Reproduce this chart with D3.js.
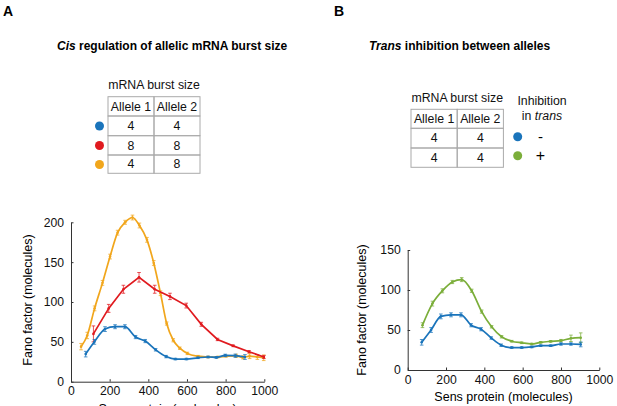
<!DOCTYPE html>
<html>
<head>
<meta charset="utf-8">
<script src="https://cdn.jsdelivr.net/npm/d3@7"></script>
<style>
  body { margin: 0; background: #fff; }
  svg { font-family: "Liberation Sans", Arial, sans-serif; }
  .axis path, .axis line { stroke: #333; }
  .axis text { font-size: 12.2px; fill: #111; font-family: "Liberation Sans", Arial, sans-serif; }
  .cell { fill: none; stroke: #aaa; stroke-width: 1; }
  .ttext { font-size: 12.3px; fill: #111; text-anchor: middle; }
</style>
</head>
<body>
<div id="plot"></div>
<script>
const w = 617, h = 406

// series: [Sens protein, Fano factor, error]
const blueA = [[76,34.6,3.5],[121,50,3],[176,66,3],[228,69,2.5],[279,69,2.5],[334,56,2],[384,51,2],
  [438,40,1.5],[492,31.5,1.5],[540,28.4,1],[597,28.4,1],[657,30,1],[709,31,1],[752,30.5,1],
  [798,33,1.5],[850,32.6,2],[900,31,3]]
const redA = [[116,60,10],[195,92,5],[271,116,5],[352,131,6],[433,116,5],[512,107,4],[596,95.5,3],
  [674,72,2.5],[758,53,1.5],[839,45,1],[921,37.6,1.5],[998,31,2]]
const orangeA = [[52,44,4],[84,58,4],[122,92,3],[163,124,3],[202,157,3],[241,187,3],[280,200,2.5],
  [318,206,3],[354,196,3],[393,178,3],[428,149,3],[463,111,3],[495,73,2],[529,52,2],[563,42,1.5],
  [602,35.5,1.5],[657,32,1],[709,31,1],[760,31,1],[803,32,1],[855,32.5,2],[890,30.5,2],[924,32,3],
  [964,31,3],[997,30,3.5]]
const blueB = [[73,34.6,3.5],[122,50,3],[173,67,3],[226,69,2.5],[278,69,2.5],[331,56,2],[383,51,2],
  [436,40,1.5],[488,31,1.5],[543,28,1],[595,28,1],[647,28.8,1],[694,30.4,1],[746,30.4,1],
  [800,32.5,1.5],[852,32.5,1.5],[903,32,3]]
const greenB = [[77,56,3],[129,83,3],[181,99,2.5],[233,110,2],[282,113,2.5],[334,99,2],[386,73,2],
  [438,54,1.5],[490,41.5,1.5],[543,36,1],[595,34,1],[647,32.5,1],[694,34.6,1],[746,35.8,1],
  [800,36.7,1.5],[852,39.6,4],[903,40.4,6]]

const xTicks = [0, 200, 400, 600, 800, 1000]
const yTicksA = [0, 50, 100, 150, 200]
const yTicksB = [0, 50, 100, 150]

const tableHeadA = ["Allele 1", "Allele 2"]
const tableRowsA = [[4, 4], [8, 8], [4, 8]]
const tableHeadB = ["Allele 1", "Allele 2"]
const tableRowsB = [[4, 4], [4, 4]]
const inhibition = ["-", "+"]

const blue = "#1a74bb", red = "#e01a1f", orange = "#f1a61c", green = "#7bae3a"

const svg = d3.select("#plot").append("svg")
  .attr("width", w)
  .attr("height", h)

// panel letters + titles
svg.append("text").attr("x", 3).attr("y", 16).attr("font-weight", "bold")
  .attr("font-size", 14).text("A")
svg.append("text").attr("x", 334).attr("y", 16).attr("font-weight", "bold")
  .attr("font-size", 14).text("B")

const tA = svg.append("text").attr("x", 57).attr("y", 50)
  .attr("font-weight", "bold").attr("font-size", 12)
tA.append("tspan").attr("font-style", "italic").text("Cis")
tA.append("tspan").text(" regulation of allelic mRNA burst size")

const tB = svg.append("text").attr("x", 369).attr("y", 50)
  .attr("font-weight", "bold").attr("font-size", 12)
tB.append("tspan").attr("font-style", "italic").text("Trans")
tB.append("tspan").text(" inhibition between alleles")

// tables
const drawTable = (x0, colW, rowYs, head, rows, caption, capY) => {
  const g = svg.append("g")
  g.append("text").attr("class", "ttext").attr("x", x0 + colW).attr("y", capY).text(caption)
  const all = [head].concat(rows)
  all.forEach((r, i) => {
    r.forEach((v, j) => {
      g.append("rect").attr("class", "cell")
        .attr("x", x0 + j * colW).attr("y", rowYs[i])
        .attr("width", colW).attr("height", rowYs[i + 1] - rowYs[i])
      g.append("text").attr("class", "ttext")
        .attr("x", x0 + j * colW + colW / 2)
        .attr("y", (rowYs[i] + rowYs[i + 1]) / 2 + 4.3)
        .text(v)
    })
  })
}

drawTable(108, 46, [96.7, 116, 135.7, 155, 173.3], tableHeadA, tableRowsA, "mRNA burst size", 88.5)
;[blue, red, orange].forEach((c, i) => {
  svg.append("circle").attr("cx", 99.5).attr("cy", [126, 145.5, 164.5][i]).attr("r", 4.5).attr("fill", c)
})

drawTable(411, 46.2, [109.3, 128.3, 148, 167.3], tableHeadB, tableRowsB, "mRNA burst size", 102)
svg.append("text").attr("class", "ttext").attr("x", 542).attr("y", 104.5).text("Inhibition")
const it = svg.append("text").attr("class", "ttext").attr("x", 542).attr("y", 120)
it.append("tspan").text("in ")
it.append("tspan").attr("font-style", "italic").text("trans")
;[blue, green].forEach((c, i) => {
  svg.append("circle").attr("cx", 517.7).attr("cy", [136.7, 155.7][i]).attr("r", 4.5).attr("fill", c)
  svg.append("text").attr("x", 540.5).attr("y", [136.7, 155.7][i] + 5)
    .attr("text-anchor", "middle").attr("font-size", i ? 16 : 15).text(inhibition[i])
})

// plots
const drawPlot = (xr, yr, yMax, yTicks, series, labX, labY) => {
  const x = d3.scaleLinear().domain([0, 1000]).range(xr)
  const y = d3.scaleLinear().domain([0, yMax]).range(yr)

  svg.append("g").attr("class", "axis")
    .attr("transform", `translate(0, ${yr[0]})`)
    .call(d3.axisBottom(x).tickValues(xTicks).tickFormat(d3.format("d"))
      .tickSizeInner(-2.5).tickSizeOuter(0).tickPadding(5))

  svg.append("g").attr("class", "axis")
    .attr("transform", `translate(${xr[0]}, 0)`)
    .call(d3.axisLeft(y).tickValues(yTicks).tickFormat(d3.format("d"))
      .tickSizeInner(-2.5).tickSizeOuter(0).tickPadding(7))

  svg.append("text")
    .attr("transform", `translate(${labX}, ${labY}) rotate(-90)`)
    .attr("text-anchor", "middle").attr("font-size", 12.5).attr("dy", "0.35em")
    .text("Fano factor (molecules)")
  svg.append("text")
    .attr("x", (xr[0] + xr[1]) / 2).attr("y", yr[0] + 31)
    .attr("text-anchor", "middle").attr("font-size", 12.5)
    .text("Sens protein (molecules)")

  series.forEach(s => {
    const g = svg.append("g")
    g.append("path")
      .datum(s.data)
      .attr("fill", "none")
      .attr("stroke", s.color)
      .attr("stroke-width", 1.7)
      .attr("d", d3.line()
        .curve(s.smooth ? d3.curveMonotoneX : d3.curveLinear)
        .x(d => x(d[0]))
        .y(d => y(d[1])))
    const eb = g.selectAll(".eb").data(s.data).enter().append("g")
      .attr("stroke", s.color).attr("stroke-opacity", 0.75).attr("stroke-width", 1)
    eb.append("line")
      .attr("x1", d => x(d[0])).attr("x2", d => x(d[0]))
      .attr("y1", d => y(d[1] - d[2])).attr("y2", d => y(d[1] + d[2]))
    eb.append("line")
      .attr("x1", d => x(d[0]) - 1.8).attr("x2", d => x(d[0]) + 1.8)
      .attr("y1", d => y(d[1] + d[2])).attr("y2", d => y(d[1] + d[2]))
    eb.append("line")
      .attr("x1", d => x(d[0]) - 1.8).attr("x2", d => x(d[0]) + 1.8)
      .attr("y1", d => y(d[1] - d[2])).attr("y2", d => y(d[1] - d[2]))
    g.selectAll("circle").data(s.data).enter().append("circle")
      .attr("cx", d => x(d[0])).attr("cy", d => y(d[1]))
      .attr("r", 1.3).attr("fill", s.color)
  })
}

drawPlot([71, 264.3], [381.7, 222.3], 200, yTicksA, [
  {data: orangeA, color: orange, smooth: true},
  {data: redA, color: red, smooth: false},
  {data: blueA, color: blue, smooth: true}
], 28, 300)

drawPlot([407.7, 599.3], [370, 250], 150, yTicksB, [
  {data: greenB, color: green, smooth: true},
  {data: blueB, color: blue, smooth: true}
], 362, 310)
</script>
</body>
</html>
